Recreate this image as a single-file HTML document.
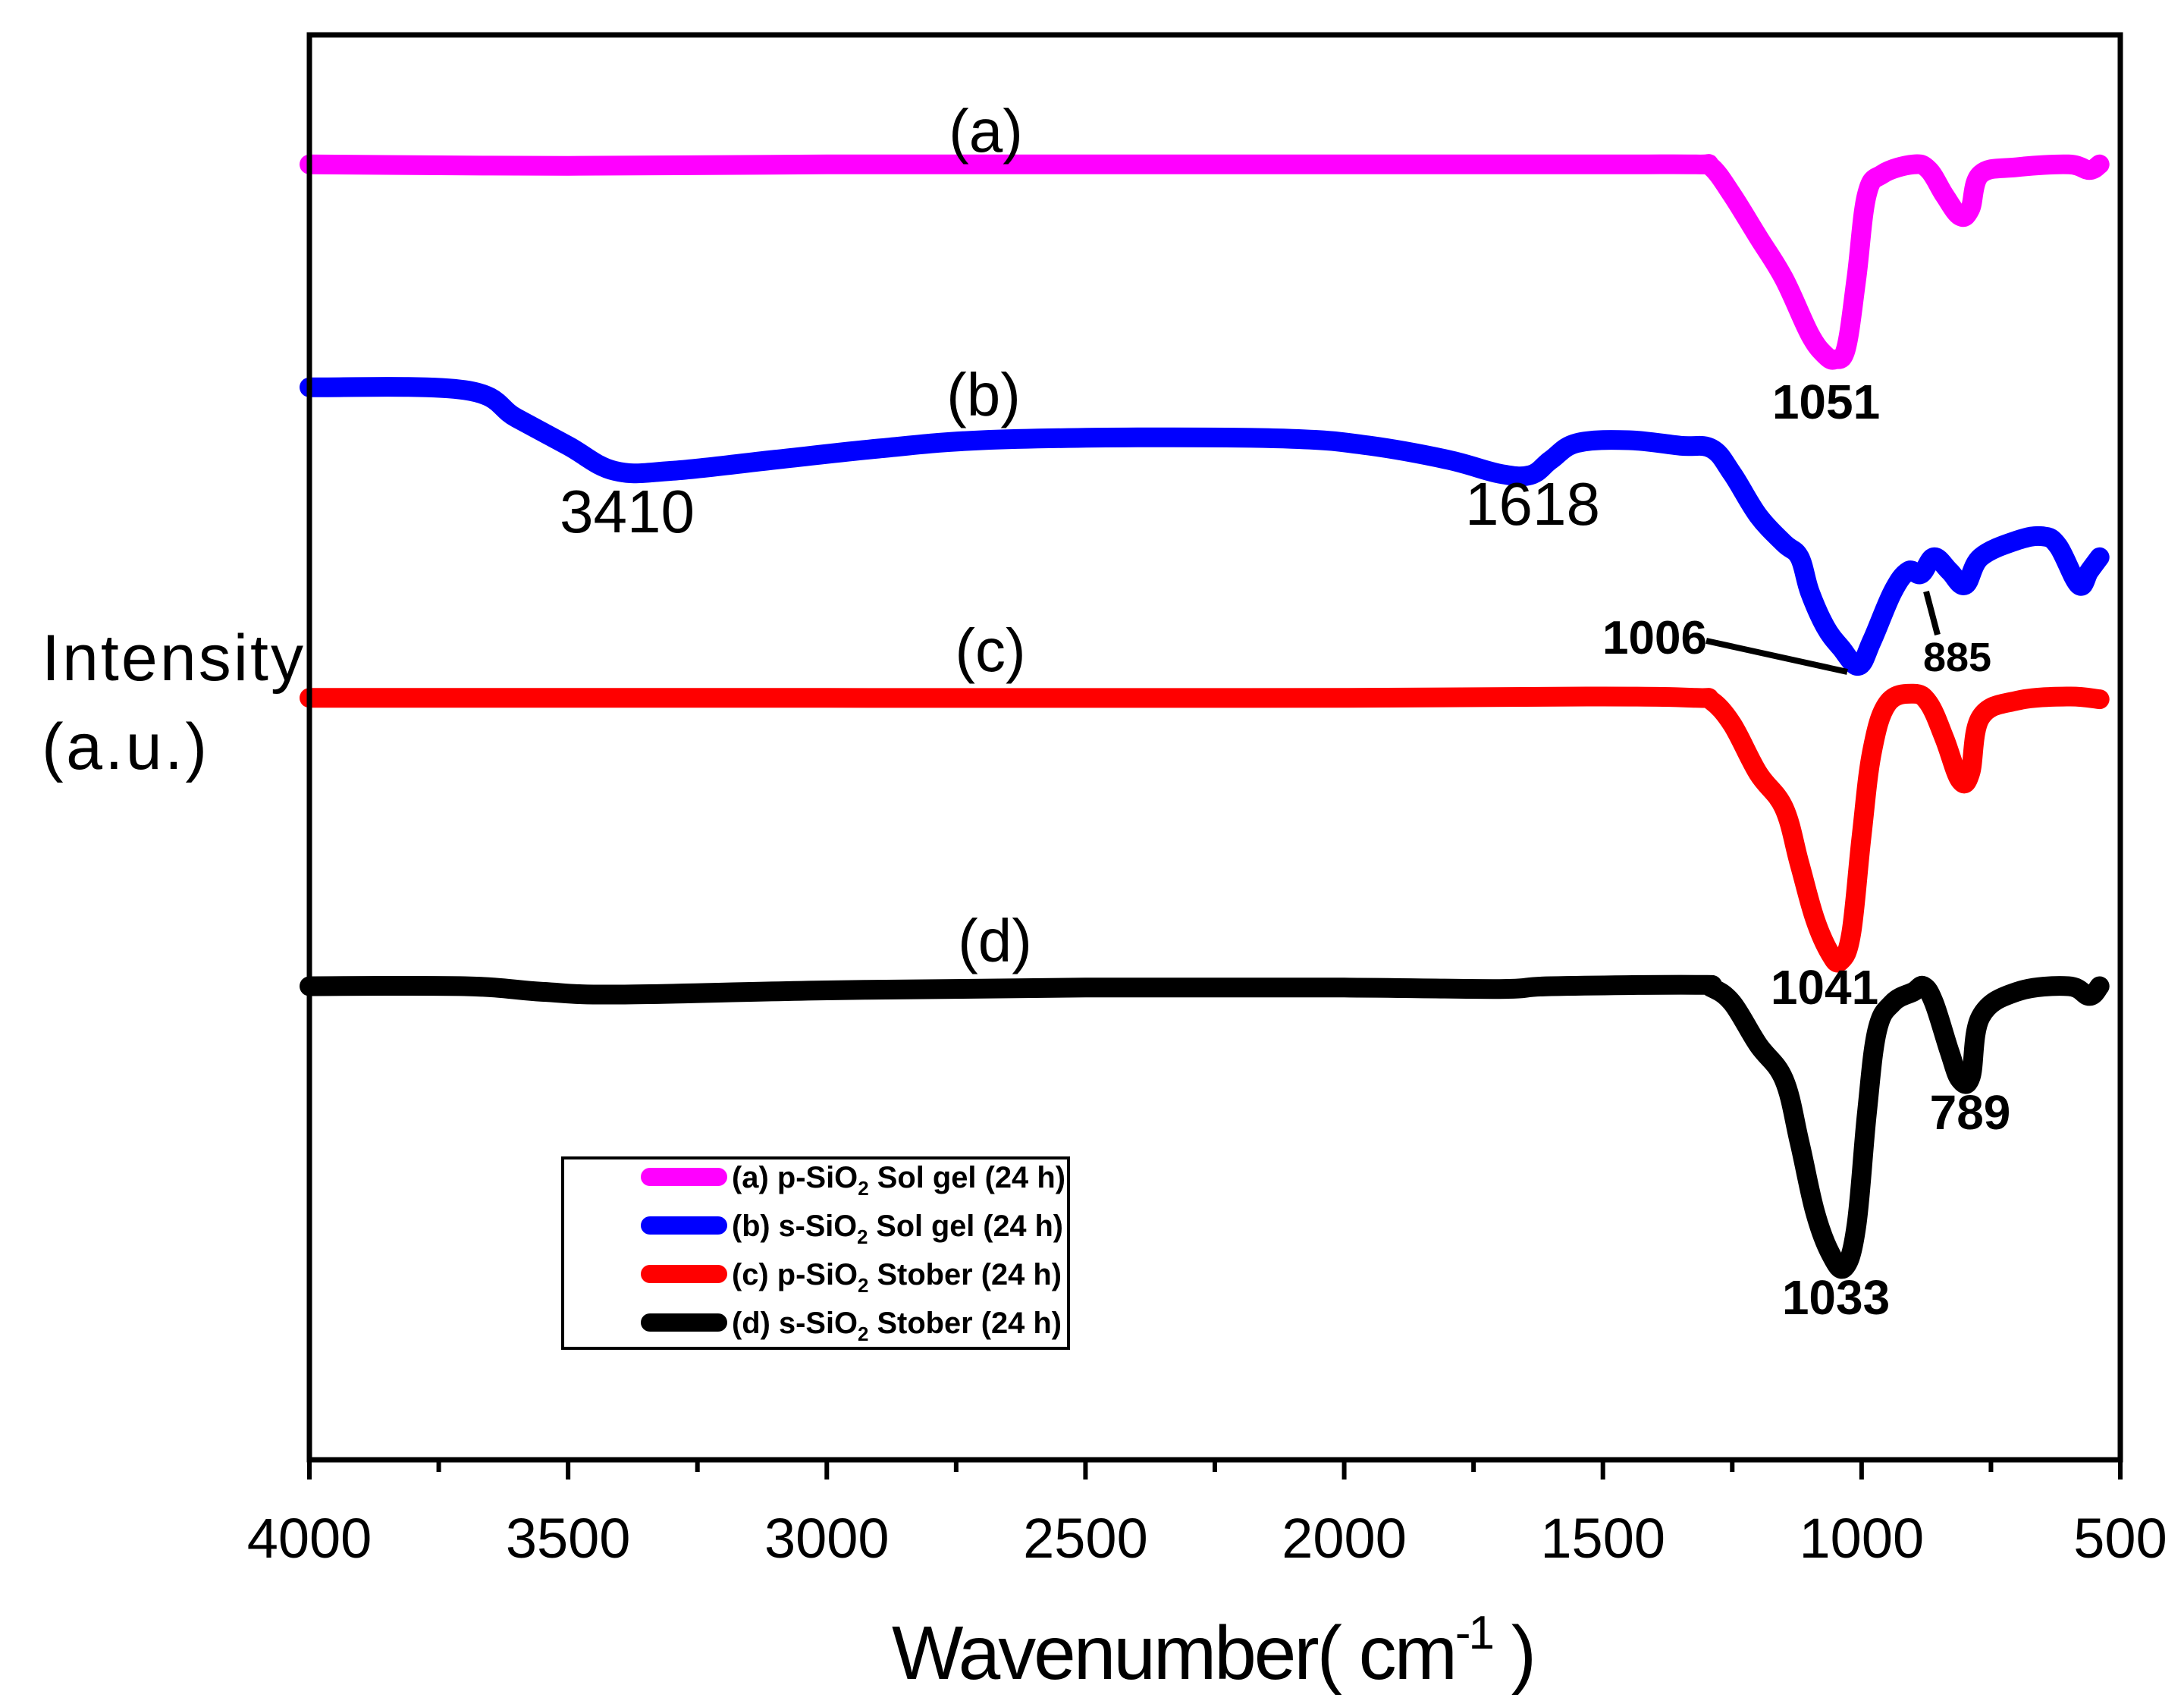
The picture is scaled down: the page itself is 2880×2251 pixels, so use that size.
<!DOCTYPE html>
<html><head><meta charset="utf-8"><style>
html,body{margin:0;padding:0;background:#fff;}
svg{display:block;}
text{font-family:"Liberation Sans",sans-serif;}
</style></head><body>
<svg id="chart" width="2880" height="2251" viewBox="0 0 2880 2251" xmlns="http://www.w3.org/2000/svg">
<rect x="0" y="0" width="2880" height="2251" fill="#fff"/>
<g id="series"></g>
<rect x="408" y="46" width="2388" height="1879" fill="none" stroke="#000" stroke-width="7"/>
<g id="ticks"></g>
<g id="labels"></g>
<text x="1176" y="2214" font-size="100" textLength="850">Wavenumber( cm<tspan font-size="62" dy="-40">-1</tspan><tspan dy="40"> )</tspan></text>
<text x="55" y="897" font-size="86" textLength="345">Intensity</text>
<text x="55" y="1014" font-size="86" textLength="218">(a.u.)</text>
<g>
<rect x="742" y="1527" width="667" height="251" fill="#fff" stroke="#000" stroke-width="4"/>
</g>
<g id="legend"></g>
</svg>
<script>
const NS="http://www.w3.org/2000/svg";
// wavenumbers (cm-1) and intensity (a.u.)
const wnA=[4000,3500,3000,2000,1500,1320,1290,1250,1200,1150,1100,1070,1051,1030,1010,990,960,900,870,840,810,790,770,700,600,560,540];
const valA=[930,929,930,930,930,930,928,908,878,848,808,793,790,798,848,908,923,930,926,908,893,898,923,928,930,926,930];
const wnB=[4000,3700,3600,3500,3410,3300,3100,2900,2700,2400,2100,1950,1800,1700,1640,1600,1550,1450,1350,1290,1250,1200,1150,1120,1100,1070,1040,1006,980,940,910,885,860,830,800,770,700,650,620,580,560,540];
const valB=[770,768,748,728,710,710,718,726,732,734,733,728,718,708,707,718,730,732,728,726,708,678,658,648,623,598,583,570,588,623,638,636,648,638,628,648,660,663,656,628,638,648];
const wnC=[4000,3500,3000,2000,1500,1320,1290,1250,1200,1150,1120,1090,1060,1041,1020,1000,980,950,900,870,840,810,790,770,700,600,540];
const valC=[547,547,547,547,548,547,545,528,493,468,428,388,363,358,378,448,508,543,550,543,518,488,493,533,545,548,546];
const wnD=[4000,3700,3550,3400,3000,2500,2000,1700,1600,1320,1290,1250,1200,1150,1120,1090,1060,1033,1010,990,970,940,900,880,860,830,810,789,770,700,600,560,540];
const valD=[340,340,336,334,337,339,339,338,340,341,339,328,298,273,228,178,148,138,168,248,308,328,336,340,328,293,273,275,318,336,340,333,340];
const colors=["#ff00ff","#0000ff","#ff0000","#000000"];
const seriesNames=["series-a-p-sio2-sol-gel","series-b-s-sio2-sol-gel","series-c-p-sio2-stober","series-d-s-sio2-stober"];
const xTicks=[4000,3500,3000,2500,2000,1500,1000,500];
const legendLabels=["(a) p-SiO","(b) s-SiO","(c) p-SiO","(d) s-SiO"];
const legendRest=[" Sol gel (24 h)"," Sol gel (24 h)"," Stober (24 h)"," Stober (24 h)"];

const X0=408,X1=2796,Y0=46,Y1=1925;
function xs(w){return X0+(4000-w)/3500*(X1-X0);}
function ys(v){return Y1-v*(Y1-Y0)/1023;}

function smoothPath(pts){
  let d='M'+pts[0][0].toFixed(1)+' '+pts[0][1].toFixed(1);
  for(let i=0;i<pts.length-1;i++){
    const p0=pts[Math.max(0,i-1)],p1=pts[i],p2=pts[i+1],p3=pts[Math.min(pts.length-1,i+2)];
    const t=0.18;
    const c1x=p1[0]+(p2[0]-p0[0])*t,c1y=p1[1]+(p2[1]-p0[1])*t;
    const c2x=p2[0]-(p3[0]-p1[0])*t,c2y=p2[1]-(p3[1]-p1[1])*t;
    d+='C'+c1x.toFixed(1)+' '+c1y.toFixed(1)+' '+c2x.toFixed(1)+' '+c2y.toFixed(1)+' '+p2[0].toFixed(1)+' '+p2[1].toFixed(1);
  }
  return d;
}

const sg=document.getElementById('series');
[[wnA,valA],[wnB,valB],[wnC,valC],[wnD,valD]].forEach((s,i)=>{
  const p=document.createElementNS(NS,'path');
  const pts=s[0].map((w,j)=>[xs(w),ys(s[1][j])]);
  p.setAttribute('d',smoothPath(pts));
  p.setAttribute('fill','none');p.setAttribute('stroke',colors[i]);
  p.setAttribute('stroke-width','26');p.setAttribute('stroke-linejoin','round');p.setAttribute('stroke-linecap','round');
  
  
  sg.appendChild(p);
});

const tg=document.getElementById('ticks');
for(let w=4000;w>=500;w-=250){
  const major=(w%500===0);
  const l=document.createElementNS(NS,'line');
  l.setAttribute('x1',xs(w));l.setAttribute('x2',xs(w));
  l.setAttribute('y1',Y1);l.setAttribute('y2',Y1+(major?26:16));
  l.setAttribute('stroke','#000');l.setAttribute('stroke-width','6');
  
  
  tg.appendChild(l);
}
xTicks.forEach(w=>{
  const t=document.createElementNS(NS,'text');
  t.setAttribute('x',xs(w));t.setAttribute('y',2054);
  t.setAttribute('font-size','74');t.setAttribute('text-anchor','middle');
  t.textContent=String(w);
  
  
  tg.appendChild(t);
});

const lg=document.getElementById('labels');
function txt(s,x,y,size,bold,name,anchor){
  const t=document.createElementNS(NS,'text');
  t.setAttribute('x',x);t.setAttribute('y',y);t.setAttribute('font-size',size);
  t.setAttribute('text-anchor',anchor||'middle');
  if(bold)t.setAttribute('font-weight','bold');
  t.textContent=s;
  
  
  lg.appendChild(t);return t;
}
txt('(a)',1300,200,80,false,'curve-label-a');
txt('(b)',1297,548,80,false,'curve-label-b');
txt('(c)',1306,885,80,false,'curve-label-c');
txt('(d)',1312,1268,80,false,'curve-label-d');
txt('1051',2408,552,64,true,'peak-label-1051');
txt('3410',827,702,80,false,'peak-label-3410');
txt('1618',2021,692,80,false,'peak-label-1618');
txt('1006',2182,862,62,true,'peak-label-1006');
txt('885',2581,885,54,true,'peak-label-885');
txt('1041',2406,1324,64,true,'peak-label-1041');
txt('789',2598,1489,64,true,'peak-label-789');
txt('1033',2421,1733,64,true,'peak-label-1033');
function ln(x1,y1,x2,y2,name){
  const l=document.createElementNS(NS,'line');
  l.setAttribute('x1',x1);l.setAttribute('y1',y1);l.setAttribute('x2',x2);l.setAttribute('y2',y2);
  l.setAttribute('stroke','#000');l.setAttribute('stroke-width','8');
  
  
  lg.appendChild(l);
}
ln(2250,845,2436,886,'leader-line-1006');
ln(2540,780,2555,837,'leader-line-885');

const leg=document.getElementById('legend');
legendLabels.forEach((s,i)=>{
  const y=1552+i*64;
  const l=document.createElementNS(NS,'line');
  l.setAttribute('x1',857);l.setAttribute('x2',947);l.setAttribute('y1',y);l.setAttribute('y2',y);
  l.setAttribute('stroke',colors[i]);l.setAttribute('stroke-width','24');l.setAttribute('stroke-linecap','round');
  
  
  leg.appendChild(l);
  const t=document.createElementNS(NS,'text');
  t.setAttribute('x',965);t.setAttribute('y',y+14);t.setAttribute('font-size','40');t.setAttribute('font-weight','bold');
  t.setAttribute('textLength', i===0?440:(i===1?437:435));
  t.setAttribute('lengthAdjust','spacingAndGlyphs');
  t.innerHTML=s+'<tspan font-size="26" dy="10">2</tspan><tspan dy="-10">'+legendRest[i]+'</tspan>';
  
  
  leg.appendChild(t);
});
</script>
</body></html>
